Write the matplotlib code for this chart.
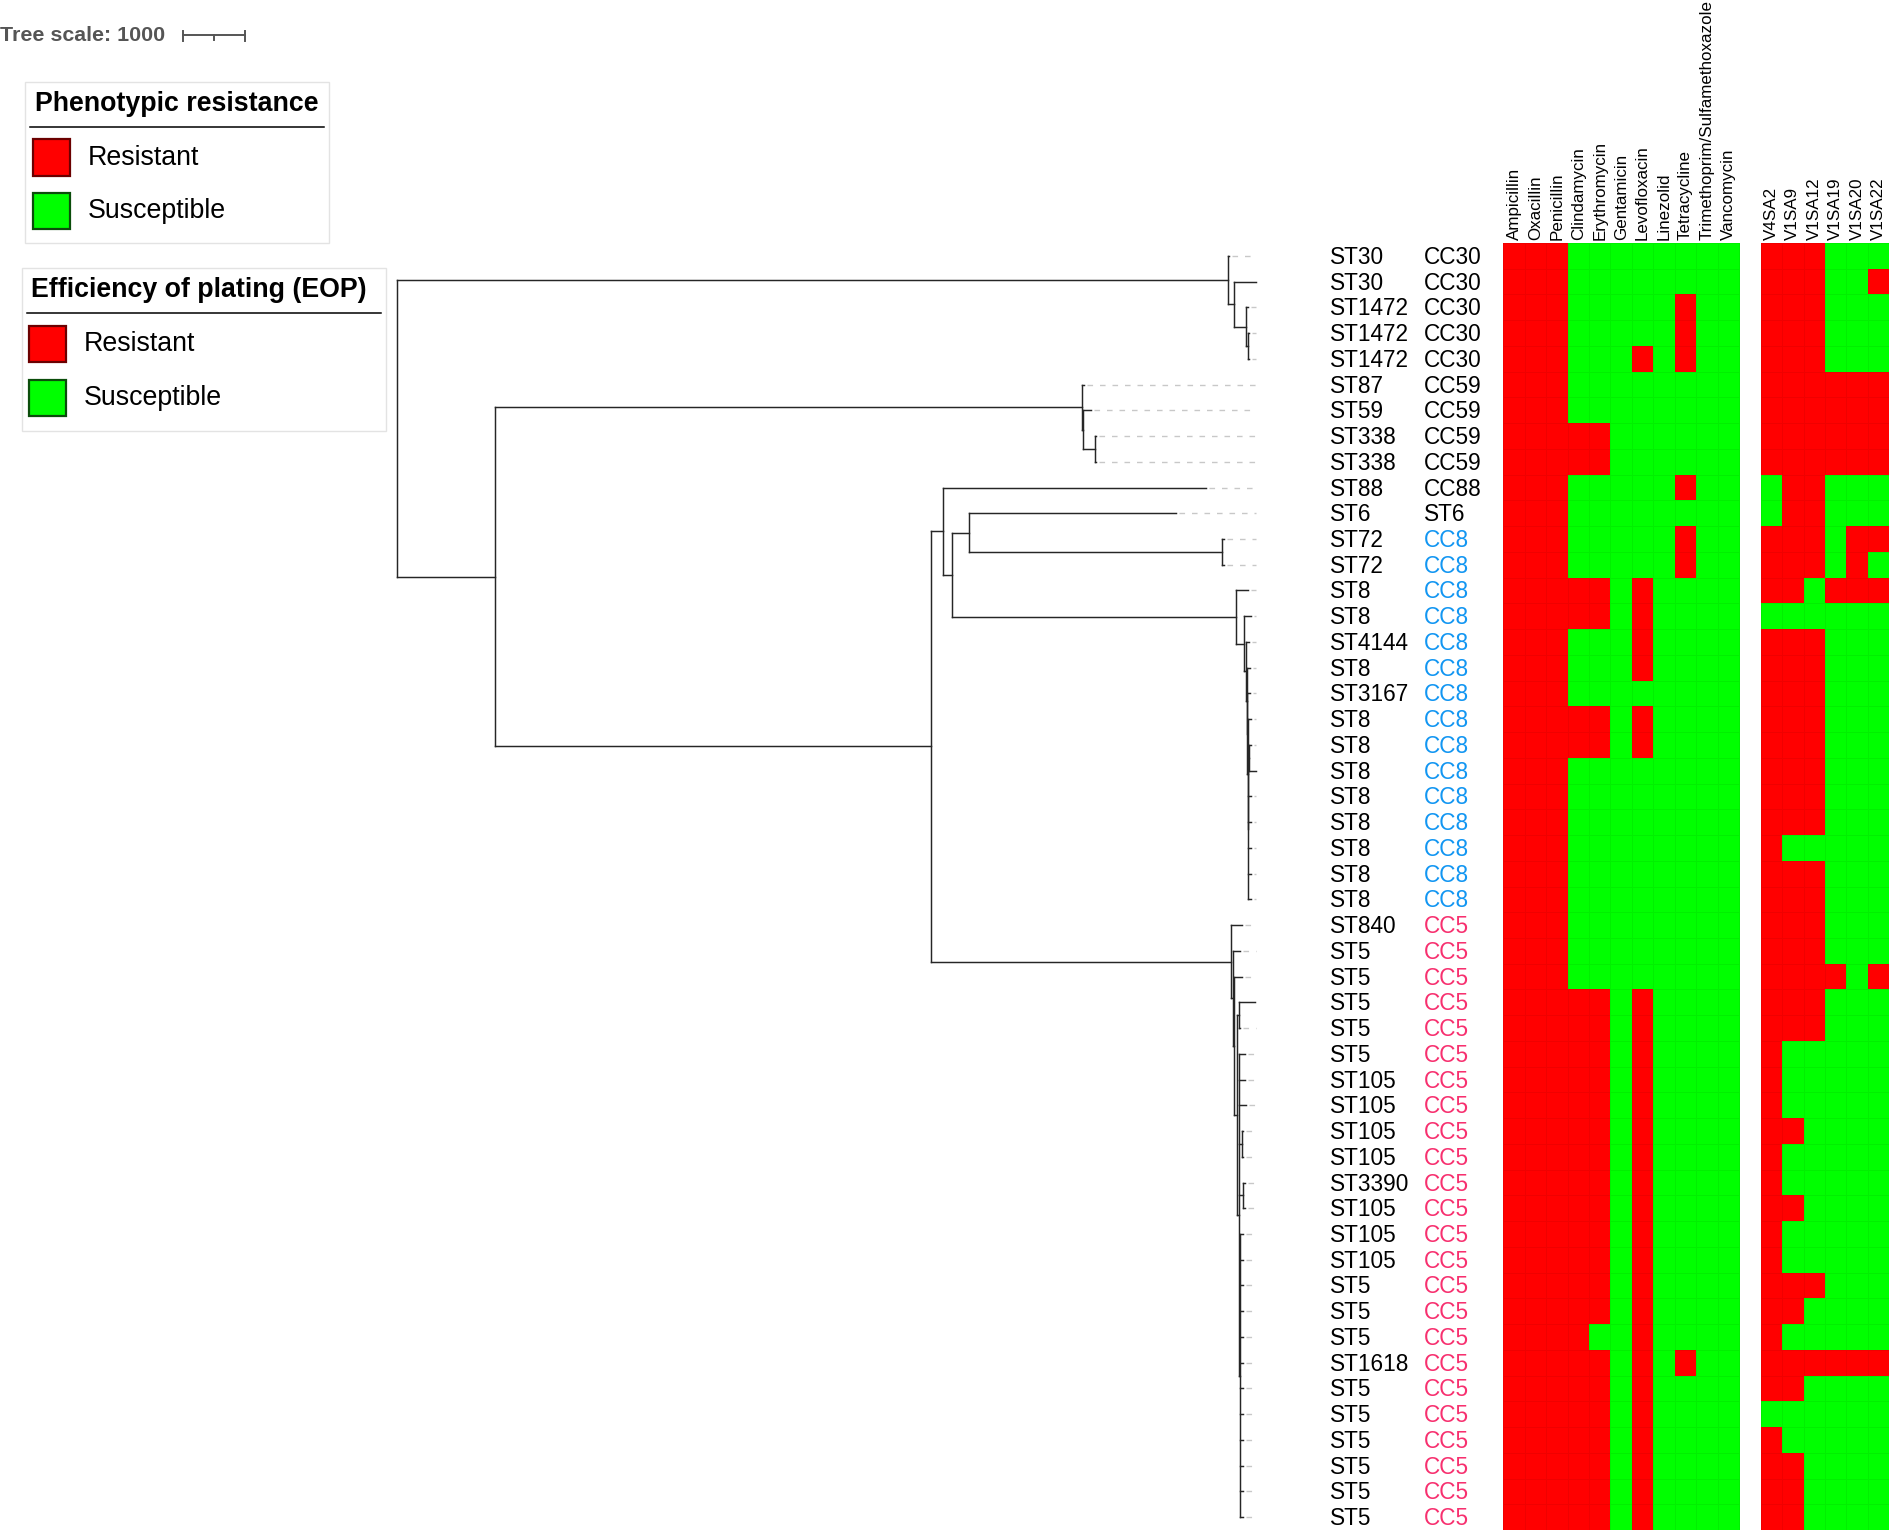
import re
import numpy as np
import matplotlib
matplotlib.use("Agg")
import matplotlib.pyplot as plt
from matplotlib.patches import Rectangle
from matplotlib.colors import ListedColormap

plt.rcParams['font.family'] = ['Liberation Sans', 'DejaVu Sans']

# tree (newick, branch lengths in tree units), leaves listed in row order
CC30_TREE = "(t00:24,(t01:347,(t02:32,(t03:24,t04:24):32):192):96)"
CC59_TREE = "(t05:24,(t06:120,(t07:16,t08:16):184):18)"
CC8_TREE = ("(t13:202,(t14:107,(t15:48,(t16:48,(t17:48,(t18:48,"
            "((t19:32,t20:112):8,t21:40,t22:40,t23:40,t24:40,t25:40)"
            ":8):8):8):16):22):138)")
MID_TREE = "(t09:4200,((t10:3320,(t11:32,t12:32):4062):266," + CC8_TREE + ":4541):138)"
CC5_TREE = ("(t26:176,(t27:112,(t28:128,((t29:256,t30:27):27,"
            "(t31:91,t32:91,t33:112,(t34:24,t35:24):48,(t36:32,t37:32):59,"
            "(t38:56,t39:56,t40:56,t41:56,t42:56,t43:56,t44:56,t45:56,t46:56,t47:56,t48:56,t49:56):16"
            "):32):48):8):42)")
TREE = ("(" + CC30_TREE + ":13300,(" + CC59_TREE + ":9389,(" + MID_TREE + ":192,"
        + CC5_TREE + ":4790):6978):1578);")

st_labels = ["ST30", "ST30", "ST1472", "ST1472", "ST1472", "ST87", "ST59", "ST338", "ST338",
             "ST88", "ST6", "ST72", "ST72", "ST8", "ST8", "ST4144", "ST8", "ST3167",
             "ST8", "ST8", "ST8", "ST8", "ST8", "ST8", "ST8", "ST8",
             "ST840", "ST5", "ST5", "ST5", "ST5", "ST5", "ST105", "ST105", "ST105", "ST105",
             "ST3390", "ST105", "ST105", "ST105", "ST5", "ST5", "ST5", "ST1618",
             "ST5", "ST5", "ST5", "ST5", "ST5", "ST5"]
cc_labels = ["CC30"] * 5 + ["CC59"] * 4 + ["CC88", "ST6"] + ["CC8"] * 15 + ["CC5"] * 24
cc_colors = {"CC8": "#1296f2", "CC5": "#f7306f"}

antibiotics = ["Ampicillin", "Oxacillin", "Penicillin", "Clindamycin", "Erythromycin",
               "Gentamicin", "Levofloxacin", "Linezolid", "Tetracycline",
               "Trimethoprim/Sulfamethoxazole", "Vancomycin"]
phages = ["V4SA2", "V1SA9", "V1SA12", "V1SA19", "V1SA20", "V1SA22"]

# 1 = resistant, 0 = susceptible
ab_profile = ["11100000000", "11100000000", "11100000100", "11100000100", "11100010100",
              "11100000000", "11100000000", "11111000000", "11111000000", "11100000100",
              "11100000000", "11100000100", "11100000100", "11111010000", "11111010000",
              "11100010000", "11100010000", "11100000000", "11111010000", "11111010000",
              "11100000000", "11100000000", "11100000000", "11100000000", "11100000000",
              "11100000000", "11100000000", "11100000000", "11100000000", "11111010000",
              "11111010000", "11111010000", "11111010000", "11111010000", "11111010000",
              "11111010000", "11111010000", "11111010000", "11111010000", "11111010000",
              "11111010000", "11111010000", "11110010000", "11111010100", "11111010000",
              "11111010000", "11111010000", "11111010000", "11111010000", "11111010000"]
phage_profile = ["111000", "111001", "111000", "111000", "111000", "111111", "111111", "111111",
                 "111111", "011000", "011000", "111011", "111010", "110111", "000000", "111000",
                 "111000", "111000", "111000", "111000", "111000", "111000", "111000", "100000",
                 "111000", "111000", "111000", "111000", "111101", "111000", "111000", "100000",
                 "100000", "100000", "110000", "100000", "100000", "110000", "100000", "100000",
                 "111000", "110000", "100000", "111111", "110000", "000000", "100000", "110000",
                 "110000", "110000"]

# layout (pixels)
W, H = 1890, 1530
TOP, ROW_H = 243, 25.74
TREE_X0 = 396.6
PX_PER_UNIT = 0.0625
ST_X, CC_X = 1330, 1423.5
AB_X0, PH_X0, CELL_W = 1503.3, 1760.7, 21.43
RED, GREEN = "#ff0000", "#00ff00"


def parse_newick(s):
    pos = 0

    def node():
        nonlocal pos
        n = {"children": [], "name": "", "length": 0.0}
        if s[pos] == "(":
            pos += 1
            n["children"].append(node())
            while s[pos] == ",":
                pos += 1
                n["children"].append(node())
            pos += 1
        m = re.match(r"[^:,();]*", s[pos:])
        n["name"] = m.group(0)
        pos += len(m.group(0))
        if pos < len(s) and s[pos] == ":":
            pos += 1
            m = re.match(r"[0-9.eE+-]+", s[pos:])
            n["length"] = float(m.group(0))
            pos += len(m.group(0))
        return n
    return node()


leaves = []


def layout(n, x0):
    n["x"] = x0 + n["length"] * PX_PER_UNIT
    if not n["children"]:
        n["y"] = TOP + (len(leaves) + 0.5) * ROW_H
        leaves.append(n)
    else:
        for c in n["children"]:
            layout(c, n["x"])
        n["y"] = (n["children"][0]["y"] + n["children"][-1]["y"]) / 2


root = parse_newick(TREE)
layout(root, TREE_X0)

fig = plt.figure(figsize=(W / 100, H / 100), dpi=100)
ax = fig.add_axes([0, 0, 1, 1])
ax.set_xlim(0, W)
ax.set_ylim(H, 0)
ax.axis("off")

line_kw = dict(color="#262626", lw=1.05, solid_capstyle="projecting")


def draw(n):
    if not n["children"]:
        return
    ax.plot([n["x"], n["x"]], [n["children"][0]["y"], n["children"][-1]["y"]], **line_kw)
    for c in n["children"]:
        ax.plot([n["x"], c["x"]], [c["y"], c["y"]], **line_kw)
        draw(c)


draw(root)

# dashed alignment lines to the labels
x_max = max(l["x"] for l in leaves)
for l in leaves:
    if x_max - l["x"] > 3:
        ax.plot([l["x"] + 3, x_max], [l["y"], l["y"]], color="#c8c8c8", lw=1.0,
                linestyle=(0, (4, 5)))

# labels
for i, (st, cc) in enumerate(zip(st_labels, cc_labels)):
    y = TOP + (i + 0.5) * ROW_H + 8
    ax.text(ST_X, y, st, fontsize=16.3, va="baseline", ha="left", color="black")
    ax.text(CC_X, y, cc, fontsize=16.3, va="baseline", ha="left",
            color=cc_colors.get(cc, "black"))

# heatmaps
cmap = ListedColormap([GREEN, RED])
ab = np.array([[int(c) for c in r] for r in ab_profile])
ph = np.array([[int(c) for c in r] for r in phage_profile])
y_edges = TOP + np.arange(len(ab_profile) + 1) * ROW_H
for x0, data, names in [(AB_X0, ab, antibiotics), (PH_X0, ph, phages)]:
    x_edges = x0 + np.arange(data.shape[1] + 1) * CELL_W
    ax.pcolormesh(x_edges, y_edges, data, cmap=cmap, vmin=0, vmax=1,
                  edgecolors=(0, 0, 0, 0.06), linewidth=0.6)
    for j, name in enumerate(names):
        ax.text(x0 + (j + 0.5) * CELL_W, TOP - 3, name, rotation=90, fontsize=12.25,
                ha="center", va="bottom")

# tree scale
ax.text(0, 35, "Tree scale: 1000", fontsize=15.4, fontweight="bold", color="#555555",
        va="center", ha="left")
sb_x0 = 182.7
sb_x1 = sb_x0 + 1000 * PX_PER_UNIT
gray = dict(color="#555555", lw=1.4)
ax.plot([sb_x0, sb_x1], [35.3, 35.3], **gray)
ax.plot([sb_x0, sb_x0], [30.5, 40.5], **gray)
ax.plot([sb_x1, sb_x1], [30.5, 40.5], **gray)
ax.plot([(sb_x0 + sb_x1) / 2] * 2, [35.3, 39.5], **gray)


# legends
def legend_box(x0, y0, x1, y1, title, line_x1, pad):
    ax.add_patch(Rectangle((x0, y0), x1 - x0, y1 - y0, fill=False, edgecolor="#e3e3e3", lw=1))
    ax.text(x0 + pad, y0 + 22, title, fontsize=19.3, fontweight="bold", va="center", ha="left")
    ax.plot([x0 + 5, line_x1], [y0 + 45, y0 + 45], color="black", lw=1.1)
    items = [("Resistant", RED, "#6b0000"), ("Susceptible", GREEN, "#0b4d0b")]
    for k, (lab, fc, ec) in enumerate(items):
        sy = y0 + 57.5 + k * 53.7
        ax.add_patch(Rectangle((x0 + pad - 2, sy), 36.8, 36.5, facecolor=fc, edgecolor=ec, lw=1.6))
        ax.text(x0 + pad + 53, sy + 18.5, lab, fontsize=19.3, va="center", ha="left")


legend_box(25, 81.7, 329.3, 243.3, "Phenotypic resistance", 324, 10)
legend_box(21.7, 268.3, 385.7, 430.7, "Efficiency of plating (EOP)", 380.7, 9.3)

fig.savefig("out.png", dpi=100)
